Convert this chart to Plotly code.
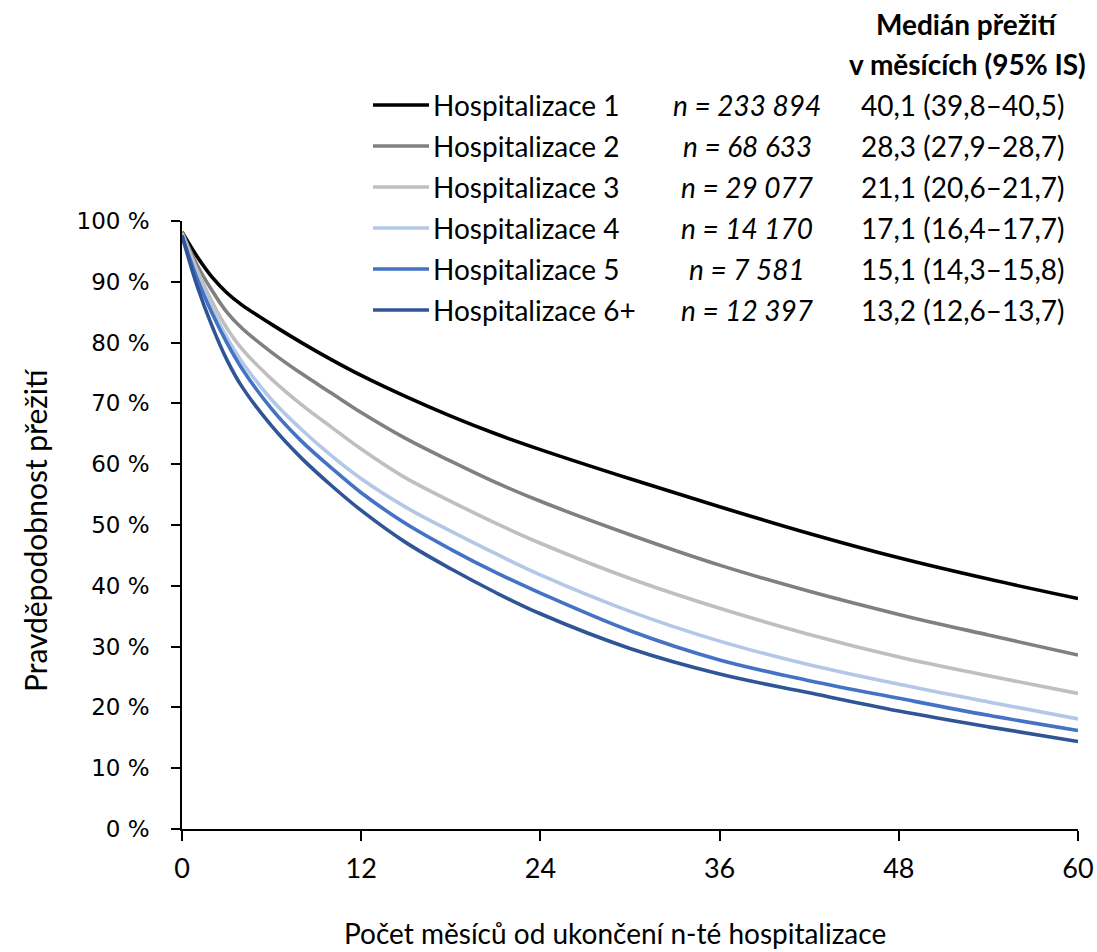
import plotly.graph_objects as go

# ---- data ----
months = [0, 1, 2, 3, 4, 6, 8, 10, 12, 15, 18, 21, 24, 30, 36, 42, 48, 54, 60]

h1 = [98.2, 94.2, 90.8, 88.2, 86.2, 83.0, 80.0, 77.2, 74.6, 71.1, 67.9, 65.0, 62.4, 57.6, 53.0, 48.6, 44.6, 41.1, 37.9]
h2 = [98.2, 92.8, 88.6, 85.0, 82.4, 78.4, 74.9, 71.7, 68.5, 64.2, 60.5, 57.0, 53.9, 48.4, 43.4, 39.1, 35.3, 31.9, 28.6]
h3 = [98.0, 92.0, 86.8, 82.4, 79.0, 74.0, 69.8, 66.1, 62.5, 57.7, 53.9, 50.3, 47.0, 41.2, 36.3, 32.0, 28.3, 25.2, 22.3]
h4 = [97.6, 91.0, 85.6, 80.9, 76.9, 70.6, 65.7, 61.4, 57.6, 52.9, 49.0, 45.3, 41.8, 35.8, 30.9, 27.0, 23.8, 20.9, 18.1]
h5 = [97.6, 90.6, 84.9, 80.0, 75.8, 69.1, 63.8, 59.4, 55.3, 50.2, 46.0, 42.2, 38.8, 32.6, 27.8, 24.4, 21.5, 18.7, 16.2]
h6 = [97.6, 89.4, 82.8, 77.2, 72.8, 66.3, 61.0, 56.5, 52.4, 47.1, 42.8, 38.9, 35.4, 29.7, 25.5, 22.4, 19.4, 16.8, 14.4]

series_names = ["Hospitalizace 1", "Hospitalizace 2", "Hospitalizace 3",
                "Hospitalizace 4", "Hospitalizace 5", "Hospitalizace 6+"]
n_labels = ["n = 233 894", "n = 68 633", "n = 29 077", "n = 14 170", "n = 7 581", "n = 12 397"]
median_labels = ["40,1 (39,8–40,5)", "28,3 (27,9–28,7)", "21,1 (20,6–21,7)",
                 "17,1 (16,4–17,7)", "15,1 (14,3–15,8)", "13,2 (12,6–13,7)"]
colors = ["#000000", "#808080", "#bfbfbf", "#b4c7e7", "#4472c4", "#2f5597"]

x_ticks = [0, 12, 24, 36, 48, 60]
y_ticks = [0, 10, 20, 30, 40, 50, 60, 70, 80, 90, 100]
y_ticktext = [f"{v} %" for v in y_ticks]

all_series = [h1, h2, h3, h4, h5, h6]

# body margin removed via post_script; plot area spans x 182..1078, y 221..829
W, H = 1097, 952
L, R, T, B = 182, 19, 221, 123
PLOT_X0, PLOT_X1, PLOT_Y0, PLOT_Y1 = 182, 1078, 221, 829

def px_x(p):
    return (p - PLOT_X0) / (PLOT_X1 - PLOT_X0)

def px_y(p):
    return (PLOT_Y1 - p) / (PLOT_Y1 - PLOT_Y0)

fig = go.Figure()
for name, vals, col in zip(series_names, all_series, colors):
    fig.add_trace(go.Scatter(x=months, y=vals, mode="lines", name=name,
                             line=dict(color=col, width=3.6, shape="spline", smoothing=1.0),
                             showlegend=False, hoverinfo="skip"))

body_font = "Lato, 'Open Sans', sans-serif"
FS = 28

# legend block
row_y = [105 + 41 * i for i in range(6)]
for i in range(6):
    yy = px_y(row_y[i])
    fig.add_shape(type="line", xref="paper", yref="paper",
                  x0=px_x(373), x1=px_x(429), y0=yy, y1=yy,
                  line=dict(color=colors[i], width=3.6))
    fig.add_annotation(xref="paper", yref="paper", x=px_x(431), y=yy,
                       text=series_names[i], showarrow=False, xanchor="left", yanchor="middle",
                       font=dict(family=body_font, size=FS, color="#000000"))
    fig.add_annotation(xref="paper", yref="paper", x=px_x(747), y=yy,
                       text=f"<i>{n_labels[i]}</i>", showarrow=False, xanchor="center", yanchor="middle",
                       font=dict(family=body_font, size=FS, color="#000000"))
    fig.add_annotation(xref="paper", yref="paper", x=px_x(963), y=yy,
                       text=median_labels[i], showarrow=False, xanchor="center", yanchor="middle",
                       font=dict(family=body_font, size=FS, color="#000000"))

fig.add_annotation(xref="paper", yref="paper", x=px_x(967), y=px_y(24),
                   text="<b>Medián přežití</b>", showarrow=False, xanchor="center", yanchor="middle",
                   font=dict(family=body_font, size=FS, color="#000000"))
fig.add_annotation(xref="paper", yref="paper", x=px_x(967), y=px_y(64),
                   text="<b>v měsících (95% IS)</b>", showarrow=False, xanchor="center", yanchor="middle",
                   font=dict(family=body_font, size=FS, color="#000000"))

# axis titles placed as in the reference
fig.add_annotation(xref="paper", yref="paper", x=px_x(615), y=px_y(933),
                   text="Počet měsíců od ukončení n-té hospitalizace", showarrow=False,
                   xanchor="center", yanchor="middle",
                   font=dict(family=body_font, size=28, color="#000000"))
fig.add_annotation(xref="paper", yref="paper", x=px_x(35), y=px_y(530),
                   text="Pravděpodobnost přežití", showarrow=False, textangle=-90,
                   xanchor="center", yanchor="middle",
                   font=dict(family=body_font, size=30, color="#000000"))

fig.update_layout(
    width=W, height=H,
    margin=dict(l=L, r=R, t=T, b=B, autoexpand=False),
    paper_bgcolor="white", plot_bgcolor="white",
    showlegend=False,
    xaxis=dict(range=[0, 60], tickvals=x_ticks, ticktext=[str(v) for v in x_ticks],
               showgrid=False, zeroline=False, showline=True, linecolor="#000000", linewidth=1.5,
               ticks="outside", ticklen=10, tickwidth=1.5, tickcolor="#000000",
               tickfont=dict(family=body_font, size=27, color="#000000"),
               ticklabelstandoff=5),
    yaxis=dict(range=[0, 100], tickvals=y_ticks, ticktext=y_ticktext,
               showgrid=False, zeroline=False, showline=True, linecolor="#000000", linewidth=1.5,
               ticks="outside", ticklen=9, tickwidth=1.5, tickcolor="#000000",
               tickfont=dict(family="'DejaVu Sans', Verdana, sans-serif", size=23, color="#000000"),
               ticklabelstandoff=17),
)

fig.write_html("out.html", config={"displayModeBar": False},
               post_script="document.body.style.margin='0';document.body.style.overflow='hidden';")
